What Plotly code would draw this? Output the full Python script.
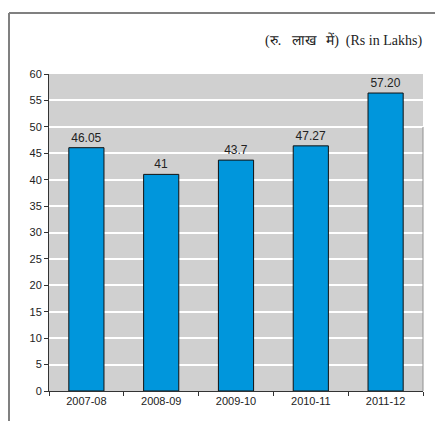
import plotly.graph_objects as go

years = ['2007-08', '2008-09', '2009-10', '2010-11', '2011-12']
# bar heights as drawn in the picture
heights = [46.05, 41, 43.7, 46.4, 56.4]
# values printed above the bars
bar_labels = ['46.05', '41', '43.7', '47.27', '57.20']
y_ticks = list(range(0, 65, 5))

fig = go.Figure(go.Bar(
    x=years,
    y=heights,
    text=bar_labels,
    textposition='outside',
    textfont=dict(family='Liberation Sans, Arial', size=12, color='#222222'),
    cliponaxis=False,
    marker=dict(color='#0096dc', line=dict(color='#111111', width=1)),
    width=0.47,
))

# reference px -> paper coords (plot area 49..423 x, 74..391 y)
def px(x):
    return (x - 49) / 374

def py(y):
    return (391 - y) / 317

# page body adds an 8px margin, so the figure is 8px smaller on each side
fig.update_layout(
    width=435,
    height=413,
    margin=dict(l=41, r=20, t=66, b=30),
    paper_bgcolor='white',
    plot_bgcolor='#d0d0d0',
    showlegend=False,
    font=dict(family='Liberation Sans, Arial', size=11, color='#222222'),
    xaxis=dict(
        type='category',
        showgrid=False,
        showline=True, linecolor='#333333', linewidth=1,
        ticks='outside', ticklen=4, tickcolor='#333333',
        tickson='boundaries',
        tickfont=dict(size=11, color='#222222'),
    ),
    yaxis=dict(
        range=[0, 60],
        tickvals=y_ticks,
        showgrid=True, gridcolor='white', gridwidth=2,
        showline=True, linecolor='#333333', linewidth=1,
        ticks='outside', ticklen=4, tickcolor='#333333',
        tickfont=dict(size=11, color='#222222'),
        zeroline=False,
    ),
    shapes=[
        # outer frame (left and top)
        dict(type='line', xref='paper', yref='paper', x0=px(9), x1=px(9), y0=py(13), y1=py(430),
             line=dict(color='#808080', width=2)),
        dict(type='line', xref='paper', yref='paper', x0=px(9), x1=px(450), y0=py(13), y1=py(13),
             line=dict(color='#808080', width=2)),
        # right edge of plot area
        dict(type='line', xref='paper', yref='paper', x0=1, x1=1, y0=0, y1=py(127),
             line=dict(color='#909090', width=1)),
    ],
    annotations=[
        dict(text='(रु.   लाख   में)  (Rs in Lakhs)', xref='paper', yref='paper',
             x=px(424), y=py(40), xanchor='right', yanchor='middle', showarrow=False,
             font=dict(family='Liberation Serif, Times New Roman', size=14, color='#222222')),
    ],
)

fig.write_html('out.html')
